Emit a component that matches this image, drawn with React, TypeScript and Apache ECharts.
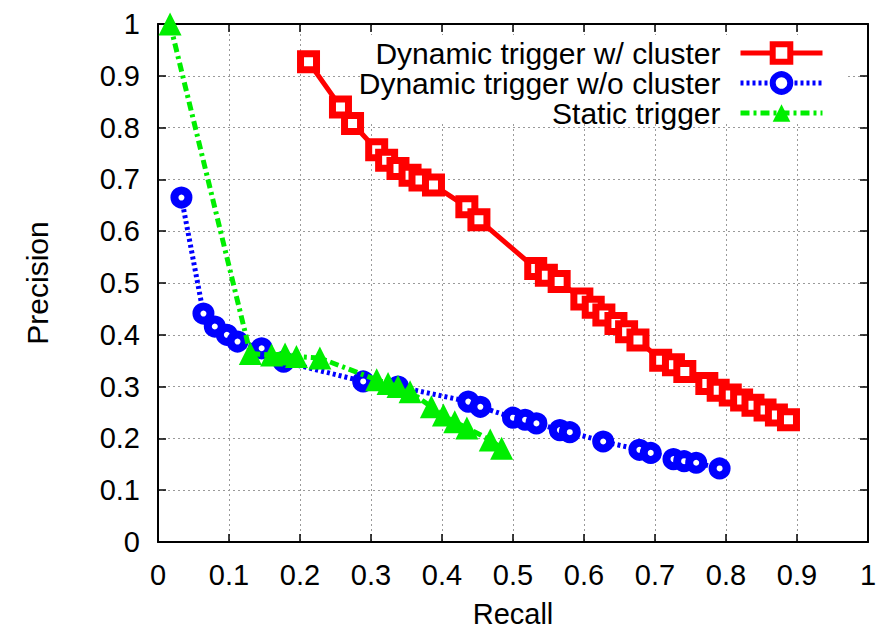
import React, { useEffect, useRef } from "react";
import * as echarts from "echarts";

const seriesNames = [
  "Dynamic trigger w/ cluster",
  "Dynamic trigger w/o cluster",
  "Static trigger",
];

const redRecall = [0.212, 0.257, 0.274, 0.308, 0.322, 0.338, 0.355, 0.369, 0.388, 0.435, 0.452, 0.532, 0.547, 0.565, 0.597, 0.613, 0.628, 0.645, 0.660, 0.676, 0.708, 0.726, 0.742, 0.773, 0.789, 0.806, 0.822, 0.838, 0.855, 0.871, 0.888];
const redPrecision = [0.927, 0.840, 0.808, 0.757, 0.737, 0.721, 0.708, 0.699, 0.689, 0.647, 0.622, 0.528, 0.515, 0.503, 0.469, 0.453, 0.438, 0.422, 0.406, 0.390, 0.351, 0.342, 0.329, 0.306, 0.293, 0.284, 0.274, 0.264, 0.255, 0.245, 0.236];

const blueRecall = [0.033, 0.064, 0.080, 0.097, 0.112, 0.146, 0.177, 0.289, 0.338, 0.437, 0.454, 0.500, 0.517, 0.533, 0.566, 0.580, 0.627, 0.678, 0.694, 0.726, 0.741, 0.758, 0.791];
const bluePrecision = [0.665, 0.441, 0.416, 0.400, 0.387, 0.374, 0.348, 0.310, 0.300, 0.271, 0.261, 0.240, 0.236, 0.229, 0.216, 0.212, 0.194, 0.178, 0.172, 0.160, 0.156, 0.153, 0.142];

const greenRecall = [0.017, 0.130, 0.160, 0.179, 0.195, 0.228, 0.308, 0.324, 0.338, 0.355, 0.385, 0.402, 0.418, 0.435, 0.468, 0.484];
const greenPrecision = [1.0, 0.364, 0.361, 0.363, 0.358, 0.355, 0.313, 0.306, 0.300, 0.290, 0.261, 0.245, 0.232, 0.220, 0.197, 0.181];

const xAxisTitle = "Recall";
const yAxisTitle = "Precision";

const zip = (xs: number[], ys: number[]) => xs.map((x, i) => [x, ys[i]]);

const FONT = "Liberation Sans, Arial, Helvetica, sans-serif";

export default function App() {
  const ref = useRef<HTMLDivElement>(null);

  useEffect(() => {
    if (!ref.current) return;
    const chart = echarts.init(ref.current, null, { renderer: "svg" });

    const baseAxis = {
      min: 0,
      max: 1,
      interval: 0.1,
      axisLine: { show: true, onZero: false, lineStyle: { color: "#000", width: 2 } },
      axisTick: { show: true, inside: true, length: 8, lineStyle: { color: "#000", width: 1.5 } },
    };

    const option: any = {
      animation: false,
      backgroundColor: "#fff",
      textStyle: { fontFamily: FONT },
      grid: { left: 158, right: 12, top: 24, bottom: 97, containLabel: false },
      xAxis: [
        {
          ...baseAxis,
          type: "value",
          position: "bottom",
          name: xAxisTitle,
          nameLocation: "middle",
          nameGap: 57,
          nameTextStyle: { fontSize: 29, color: "#000", fontFamily: FONT },
          axisLabel: { fontSize: 29, color: "#000", margin: 18, fontFamily: FONT },
          splitLine: { show: true, lineStyle: { color: "#9a9a9a", width: 1, type: [2, 3] } },
        },
        {
          ...baseAxis,
          type: "value",
          position: "top",
          axisLabel: { show: false },
          splitLine: { show: false },
        },
      ],
      yAxis: [
        {
          ...baseAxis,
          type: "value",
          position: "left",
          name: yAxisTitle,
          nameLocation: "middle",
          nameGap: 106,
          nameRotate: 90,
          nameTextStyle: { fontSize: 30, color: "#000", fontFamily: FONT },
          axisLabel: { fontSize: 29, color: "#000", margin: 18, fontFamily: FONT },
          splitLine: { show: true, lineStyle: { color: "#9a9a9a", width: 1, type: [2, 3] } },
        },
        {
          ...baseAxis,
          type: "value",
          position: "right",
          axisLabel: { show: false },
          splitLine: { show: false },
        },
      ],
      graphic: [
        {
          type: "rect",
          left: 360,
          top: 35,
          z: 1,
          shape: { width: 488, height: 89 },
          style: { fill: "#fff" },
        },
      ],
      legend: {
        orient: "vertical",
        right: 50,
        top: 33,
        align: "right",
        itemWidth: 82,
        itemHeight: 22,
        itemGap: 0,
        lineStyle: { width: 5 },
        itemStyle: { borderWidth: 6 },
        textStyle: {
          fontSize: 30,
          color: "#000",
          fontFamily: FONT,
          lineHeight: 30,
          padding: [0, 15, 0, 0],
        },
        data: seriesNames,
      },
      series: [
        {
          name: seriesNames[0],
          type: "line",
          data: zip(redRecall, redPrecision),
          clip: false,
          z: 4,
          symbol: "rect",
          symbolSize: 16,
          itemStyle: { color: "#fff", borderColor: "#ff0000", borderWidth: 7 },
          lineStyle: { color: "#ff0000", width: 5, type: "solid" },
          color: "#ff0000",
        },
        {
          name: seriesNames[1],
          type: "line",
          data: zip(blueRecall, bluePrecision),
          clip: false,
          z: 3,
          symbol: "circle",
          symbolSize: 14,
          itemStyle: { color: "#fff", borderColor: "#0000ff", borderWidth: 8 },
          lineStyle: { color: "#0000ff", width: 5, type: [3, 3] },
          color: "#0000ff",
        },
        {
          name: seriesNames[2],
          type: "line",
          data: zip(greenRecall, greenPrecision),
          clip: false,
          z: 5,
          symbol: "triangle",
          symbolSize: 23,
          itemStyle: { color: "#00ee00", borderWidth: 0 },
          lineStyle: { color: "#00ee00", width: 5, type: [9, 4, 3, 4] },
          color: "#00ee00",
        },
      ],
    };

    chart.setOption(option);
    return () => chart.dispose();
  }, []);

  return (
    <div
      ref={ref}
      style={{ position: "fixed", left: 0, top: 0, width: 880, height: 639, background: "#fff" }}
    />
  );
}
